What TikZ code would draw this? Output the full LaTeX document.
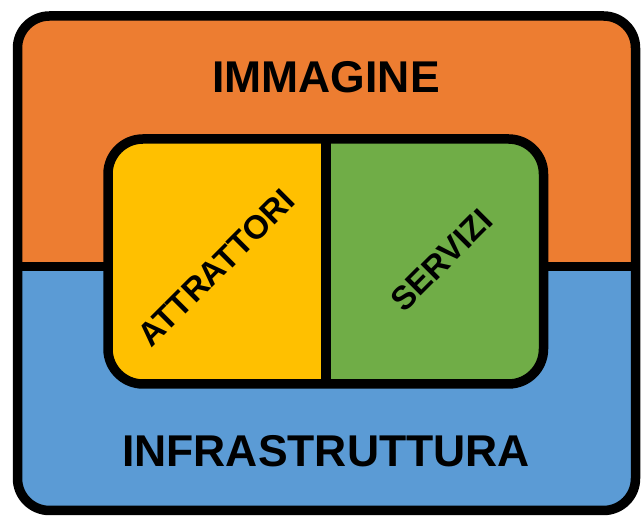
\documentclass[tikz,border=0pt]{standalone}
\usepackage{fontspec}
\setmainfont{Liberation Sans}
\definecolor{imgorange}{HTML}{ED7D31}
\definecolor{infblue}{HTML}{5B9BD5}
\definecolor{attyellow}{HTML}{FFC000}
\definecolor{servgreen}{HTML}{70AD47}
\tikzset{
  border/.style={draw=black, line width=9.5pt},
  bigtext/.style={inner sep=0pt, font=\bfseries\fontsize{44.5}{44.5}\selectfont},
  tilttext/.style={inner sep=0pt, rotate=45, font=\bfseries\fontsize{33}{33}\selectfont}
}
\begin{document}
\begin{tikzpicture}[x=1pt,y=1pt]
\useasboundingbox (0,0) rectangle (643,518);
% outer box halves
\begin{scope}
  \clip[rounded corners=32pt] (17.5,7.5) rectangle (635.5,502);
  \fill[infblue] (17.5,7.5) rectangle (635.5,251.5);
  \fill[imgorange] (17.5,251.5) rectangle (635.5,502);
\end{scope}
\coordinate (divL) at (17.5,251.5);
\coordinate (divR) at (635.5,251.5);
\draw[border] (divL) -- (divR);
\draw[border, rounded corners=32pt] (17.5,7.5) rectangle (635.5,502);
% inner box
\begin{scope}
  \clip[rounded corners=35pt] (108,134) rectangle (543.5,379);
  \fill[attyellow] (108,134) rectangle (326,379);
  \fill[servgreen] (326,134) rectangle (543.5,379);
\end{scope}
\coordinate (midT) at (326,379);
\coordinate (midB) at (326,134);
\draw[border] (midT) -- (midB);
\draw[border, rounded corners=35pt] (108,134) rectangle (543.5,379);
% labels
\node[bigtext] (imm) at (326,441) {IMMAGINE};
\node[bigtext] (inf) at (326,66.5) {INFRASTRUTTURA};
\node[tilttext] (att) at (216,250) {ATTRATTORI};
\node[tilttext] (ser) at (441.5,258) {SERVIZI};
\end{tikzpicture}
\end{document}
